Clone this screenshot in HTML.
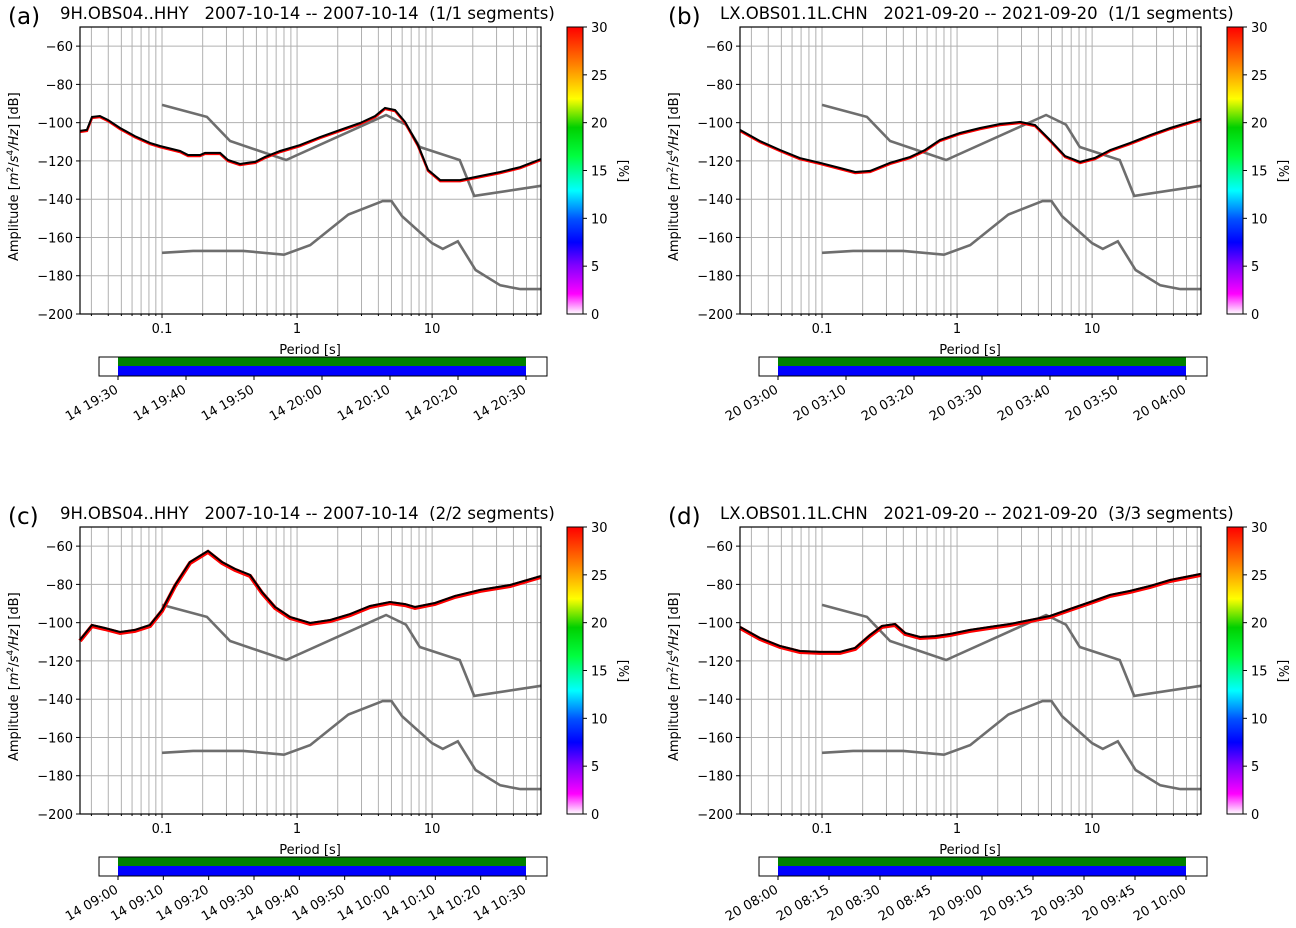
<!DOCTYPE html>
<html><head><meta charset="utf-8">
<style>
html,body{margin:0;padding:0;background:#fff;}
svg{display:block;font-family:"DejaVu Sans","Liberation Sans",sans-serif;}
text{white-space:pre;}
</style></head>
<body>
<svg id="fig" width="1296" height="928" viewBox="0 0 1296 928" xmlns="http://www.w3.org/2000/svg" xml:space="preserve">
<defs>
<linearGradient id="cbgrad" x1="0" y1="1" x2="0" y2="0">
<stop offset="0" stop-color="#ffffff"/>
<stop offset="0.07" stop-color="#ff00ff"/>
<stop offset="0.17" stop-color="#8000ff"/>
<stop offset="0.25" stop-color="#0000ff"/>
<stop offset="0.33" stop-color="#0050ff"/>
<stop offset="0.43" stop-color="#00ffff"/>
<stop offset="0.55" stop-color="#00ff40"/>
<stop offset="0.65" stop-color="#00d000"/>
<stop offset="0.75" stop-color="#ffff00"/>
<stop offset="0.87" stop-color="#ff8000"/>
<stop offset="1" stop-color="#ff0000"/>
</linearGradient>
</defs>
</svg>
<script>
// Noise model data (period s, dB)
const nhnmPeriods=[0.1,0.215,0.319,0.83,4.56,6.4,8.1,16,20.5,64];
const nhnmDb=[-90.7,-97,-109.6,-119.5,-96,-101,-112.7,-119.5,-138.3,-133];
const nlnmPeriods=[0.1,0.17,0.4,0.8,1.25,2.4,4.3,5,6,10,12,15.5,21,32,45,64];
const nlnmDb=[-168,-167,-167,-169,-164,-148,-141,-141,-149,-163,-166,-162,-177,-185,-187,-187];
// Mode curves per panel
const aPeriods=[0.0247,0.0278,0.0303,0.0347,0.0398,0.0489,0.063,0.0815,0.0966,0.136,0.156,0.191,0.208,0.269,0.308,0.378,0.434,0.489,0.579,0.748,1.05,1.48,2.08,2.93,3.78,4.48,5.32,6.31,7.87,9.33,11.5,16.1,22.7,31.9,44.9,64];
const aDb=[-104.3,-103.8,-97,-96.5,-98.6,-102.8,-107,-110.6,-112.2,-114.8,-116.9,-116.9,-115.8,-115.8,-119.5,-121.6,-121,-120.5,-117.9,-114.8,-111.7,-107.5,-103.8,-100.2,-96.5,-92.3,-93.4,-99.6,-111.7,-124.7,-130,-130,-127.9,-125.8,-123.2,-119];
const bPeriods=[0.0247,0.0347,0.0489,0.0686,0.0966,0.136,0.176,0.227,0.319,0.449,0.579,0.748,1.05,1.48,2.08,2.93,3.78,4.88,6.31,8.14,10.5,13.6,19.1,26.9,37.8,53.2,64];
const bDb=[-103.8,-109.6,-114.3,-118.5,-121,-123.7,-125.8,-125.2,-121,-117.9,-114.3,-109,-105.4,-102.8,-100.7,-99.6,-101.2,-109,-117.4,-120.5,-118.4,-114.3,-110.6,-106.5,-102.8,-99.6,-98];
const cPeriods=[0.0247,0.0303,0.0377,0.0489,0.063,0.0815,0.1,0.125,0.161,0.219,0.278,0.347,0.449,0.551,0.687,0.887,1.25,1.76,2.47,3.47,4.88,6.31,7.47,10.5,14.8,22.7,37.8,64];
const cDb=[-109,-101.2,-102.8,-104.9,-103.8,-101.2,-93.4,-80.3,-68.3,-62.5,-68.3,-71.9,-75.1,-84,-91.8,-97,-100.2,-98.6,-95.5,-91.3,-89.2,-90.3,-91.8,-89.7,-86,-82.9,-80.3,-75.6];
const dPeriods=[0.0247,0.0347,0.0489,0.0686,0.0966,0.136,0.176,0.227,0.278,0.347,0.412,0.532,0.687,0.887,1.25,1.76,2.47,3.47,4.88,6.87,9.67,13.6,19.1,26.9,37.8,53.2,64];
const dDb=[-102.2,-108,-112.2,-114.8,-115.3,-115.3,-113.2,-106.4,-101.7,-100.7,-105.4,-107.5,-107,-105.9,-103.8,-102.2,-100.7,-98.6,-96.5,-92.8,-89.2,-85.5,-83.4,-80.8,-77.7,-75.6,-74.5];
const yTicks=[-60,-80,-100,-120,-140,-160,-180,-200];
const cbTicks=[0,5,10,15,20,25,30];
const aTimes=["14 19:30","14 19:40","14 19:50","14 20:00","14 20:10","14 20:20","14 20:30"];
const bTimes=["20 03:00","20 03:10","20 03:20","20 03:30","20 03:40","20 03:50","20 04:00"];
const cTimes=["14 09:00","14 09:10","14 09:20","14 09:30","14 09:40","14 09:50","14 10:00","14 10:10","14 10:20","14 10:30"];
const dTimes=["20 08:00","20 08:15","20 08:30","20 08:45","20 09:00","20 09:15","20 09:30","20 09:45","20 10:00"];

const NS="http://www.w3.org/2000/svg";
const fig=document.getElementById('fig');
function mk(tag,attrs,parent,text){const e=document.createElementNS(NS,tag);for(const k in attrs)e.setAttribute(k,attrs[k]);if(text!==undefined)e.textContent=text;parent.appendChild(e);return e;}
const L=80,R=541,T=27,B=314;
const xMinLog=Math.log10(0.0247),xMaxLog=Math.log10(64);
function xs(p){return L+(Math.log10(p)-xMinLog)/(xMaxLog-xMinLog)*(R-L);}
function ys(v){return B-(v-(-200))/150*(B-T);}

function panel(ox,oy,letter,title,periods,dbs,times,thick){
  const g=mk('g',{transform:`translate(${ox},${oy})`},fig);
  
  
  const lt=mk('text',{x:8,y:24,'font-size':23},g,'('+letter+')');
  
  
  const tt=mk('text',{x:60,y:19,'font-size':16.5},g,title);
  
  
  const grid=mk('g',{stroke:'#b0b0b0','stroke-width':1},g);
  
  
  for(let e=-2;e<=1;e++)for(let m=1;m<=9;m++){const p=m*Math.pow(10,e);const x=xs(p);if(x<L||x>R)continue;
    mk('line',{x1:x,x2:x,y1:T,y2:B},grid);
    mk('line',{x1:x,x2:x,y1:B,y2:B+(m===1?4:2),stroke:'#000'},g);}
  for(const v of yTicks){const y=ys(v);mk('line',{x1:L,x2:R,y1:y,y2:y},grid);
    mk('line',{x1:L-4,x2:L,y1:y,y2:y,stroke:'#000'},g);
    const t=mk('text',{x:L-7,y:y+5,'font-size':13,'text-anchor':'end'},g,'\u2212'+Math.abs(v));
    
    }
  [['0.1',0.1],['1',1],['10',10]].forEach(([s,p])=>{const t=mk('text',{x:xs(p),y:333,'font-size':13,'text-anchor':'middle'},g,s);
    
    });
  const xl=mk('text',{x:310,y:354,'font-size':13,'text-anchor':'middle'},g,'Period [s]');
  
  
  const yl=mk('text',{transform:'translate(18,261) rotate(-90)','font-size':13},g);
  
  
  yl.innerHTML='Amplitude [<tspan font-style="italic">m</tspan><tspan dy="-5" font-size="9">2</tspan><tspan dy="5">/</tspan><tspan font-style="italic">s</tspan><tspan dy="-5" font-size="9">4</tspan><tspan dy="5" font-style="italic">/Hz</tspan>] [dB]';
  const pts=(P,D)=>P.map((p,i)=>xs(p).toFixed(1)+','+ys(D[i]).toFixed(1)).join(' ');
  const hn=mk('polyline',{points:pts(nhnmPeriods,nhnmDb),fill:'none',stroke:'#6e6e6e','stroke-width':2.6},g);
  
  
  const ln=mk('polyline',{points:pts(nlnmPeriods,nlnmDb),fill:'none',stroke:'#6e6e6e','stroke-width':2.6},g);
  
  
  const rd=mk('polyline',{points:pts(periods,dbs),fill:'none',stroke:'#ff0000','stroke-width':thick,transform:'translate(0,1)'},g);
  
  
  const md=mk('polyline',{points:pts(periods,dbs),fill:'none',stroke:'#000','stroke-width':2},g);
  
  
  const fr=mk('rect',{x:L,y:T,width:R-L,height:B-T,fill:'none',stroke:'#000','stroke-width':1.2},g);
  
  
  const cb=mk('rect',{x:567,y:T,width:16,height:B-T,fill:'url(#cbgrad)',stroke:'#000','stroke-width':1},g);
  
  
  for(const v of cbTicks){const y=B-v/30*(B-T);mk('line',{x1:583,x2:587,y1:y,y2:y,stroke:'#000'},g);
    const t=mk('text',{x:591,y:y+5,'font-size':13},g,String(v));
    
    }
  const cl=mk('text',{transform:'translate(619,171) rotate(90)','font-size':13,'text-anchor':'middle'},g,'[%]');
  
  
  const tb=mk('rect',{x:99,y:357,width:448,height:19,fill:'#fff',stroke:'#000','stroke-width':1},g);
  
  
  const gr=mk('rect',{x:118,y:357.5,width:408,height:9,fill:'#008000'},g);
  
  
  const bl=mk('rect',{x:118,y:366,width:408,height:9.5,fill:'#0000ff'},g);
  
  
  const n=times.length,step=408/(n-1);
  times.forEach((s,i)=>{const x=118+i*step;mk('line',{x1:x,x2:x,y1:376,y2:380,stroke:'#000'},g);
    const t=mk('text',{transform:`translate(${x+1},${392}) rotate(-30)`,'font-size':13,'text-anchor':'end'},g,s);
    
    });
}
panel(0,0,'a','9H.OBS04..HHY   2007-10-14 -- 2007-10-14  (1/1 segments)',aPeriods,aDb,aTimes,2.5);
panel(660,0,'b','LX.OBS01.1L.CHN   2021-09-20 -- 2021-09-20  (1/1 segments)',bPeriods,bDb,bTimes,2.5);
panel(0,500,'c','9H.OBS04..HHY   2007-10-14 -- 2007-10-14  (2/2 segments)',cPeriods,cDb,cTimes,4);
panel(660,500,'d','LX.OBS01.1L.CHN   2021-09-20 -- 2021-09-20  (3/3 segments)',dPeriods,dDb,dTimes,4);
</script>
</body></html>
